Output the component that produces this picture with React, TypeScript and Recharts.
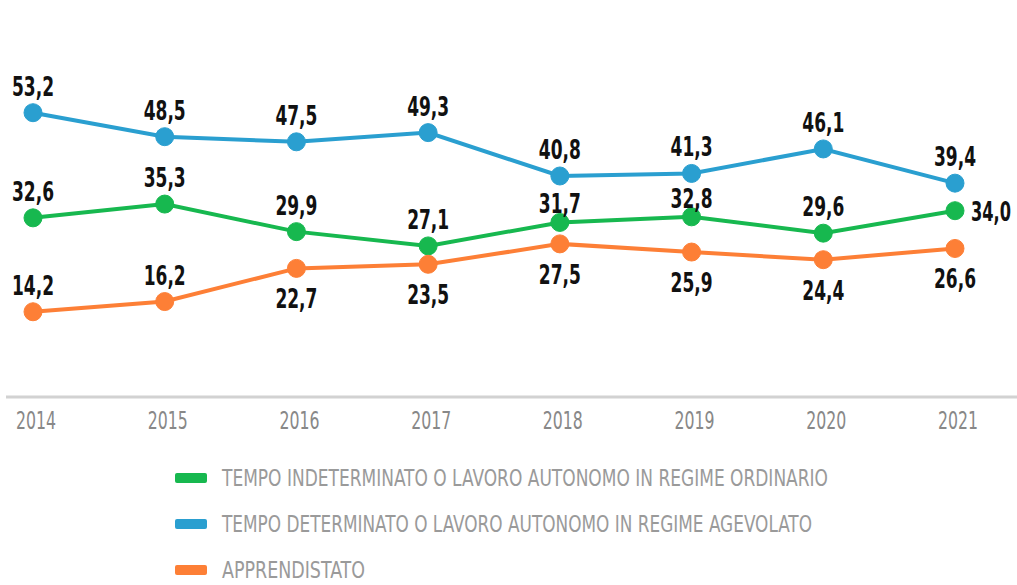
import { LineChart, Line, XAxis, YAxis, Legend, LabelList } from 'recharts';

const years = ['2014', '2015', '2016', '2017', '2018', '2019', '2020', '2021'];
const ordinario = [32.6, 35.3, 29.9, 27.1, 31.7, 32.8, 29.6, 34.0];
const agevolato = [53.2, 48.5, 47.5, 49.3, 40.8, 41.3, 46.1, 39.4];
const apprendistato = [14.2, 16.2, 22.7, 23.5, 27.5, 25.9, 24.4, 26.6];

const seriesNames = [
  'TEMPO INDETERMINATO O LAVORO AUTONOMO IN REGIME ORDINARIO',
  'TEMPO DETERMINATO O LAVORO AUTONOMO IN REGIME AGEVOLATO',
  'APPRENDISTATO',
];

const GREEN = '#17b84f';
const BLUE = '#2a9fd0';
const ORANGE = '#fd7f36';

// where each value label sits relative to its dot
const greenPlace = ['top', 'top', 'top', 'top', 'near', 'near', 'top', 'right'];
const bluePlace = ['top', 'top', 'top', 'top', 'top', 'top', 'top', 'top'];
const orangePlace = ['top', 'top', 'bottom', 'bottom', 'bottom', 'bottom', 'bottom', 'bottom'];

const data = years.map((year, i) => ({
  year,
  ordinario: ordinario[i],
  agevolato: agevolato[i],
  apprendistato: apprendistato[i],
}));

const fmt = (v: number) => v.toFixed(1).replace('.', ',');

const labelFont = '"Liberation Sans Narrow", "DejaVu Sans Condensed", Roboto, sans-serif';

const makeLabel = (places: string[]) => (props: any) => {
  const { x, y, value, index } = props;
  const place = places[index];
  if (place === 'right') {
    // smaller font stretched upward, so the label stays inside the picture
    return (
      <text
        transform={`translate(${x + 16},${y + 10}) scale(1,1.25)`}
        fontFamily={labelFont}
        fontWeight="bold"
        fontSize={21}
        fill="#111"
        textLength={40}
        lengthAdjust="spacingAndGlyphs"
      >
        {fmt(value)}
      </text>
    );
  }
  let ty = y - 17;
  if (place === 'near') ty = y - 9;
  if (place === 'bottom') ty = y + 40;
  return (
    <text
      x={x}
      y={ty}
      textAnchor="middle"
      fontFamily={labelFont}
      fontWeight="bold"
      fontSize={27}
      fill="#111"
      textLength={42}
      lengthAdjust="spacingAndGlyphs"
    >
      {fmt(value)}
    </text>
  );
};

const YearTick = (props: any) => {
  const { x, y, payload } = props;
  return (
    <text
      x={x + 3}
      y={y + 24}
      textAnchor="middle"
      fontFamily={labelFont}
      fontSize={24}
      fill="#888"
      textLength={40}
      lengthAdjust="spacingAndGlyphs"
    >
      {payload.value}
    </text>
  );
};

const legendWidths = [606, 590, 143];
const legendColors = [GREEN, BLUE, ORANGE];

const LegendBox = () => (
  <svg width={1017} height={158} style={{ display: 'block' }}>
    {seriesNames.map((name, i) => {
      const cy = 51 + i * 46;
      return (
        <g key={name}>
          <rect x={175} y={cy - 5} width={32} height={10} rx={2} fill={legendColors[i]} />
          <text
            x={222}
            y={cy + 8}
            fontFamily={labelFont}
            fontSize={23}
            fill="#9a9a9a"
            textLength={legendWidths[i]}
            lengthAdjust="spacingAndGlyphs"
          >
            {name}
          </text>
        </g>
      );
    })}
  </svg>
);

export default function App() {
  return (
    <div style={{ position: 'absolute', left: 0, top: 0, width: 1017, height: 585, background: '#fff' }}>
      <LineChart width={1017} height={585} data={data} margin={{ top: 78, right: 0, bottom: 0, left: 6 }}>
        <XAxis
          dataKey="year"
          axisLine={{ stroke: '#d2d2d2', strokeWidth: 3 }}
          tickLine={false}
          tick={<YearTick />}
          height={30}
          padding={{ left: 27, right: 62 }}
          interval={0}
        />
        <YAxis hide domain={[-2.5, 60]} allowDataOverflow />
        <Legend verticalAlign="bottom" content={<LegendBox />} wrapperStyle={{ left: 0, width: 1017, height: 158 }} />
        <Line
          dataKey="agevolato"
          stroke={BLUE}
          strokeWidth={4}
          dot={{ r: 9, fill: BLUE, stroke: BLUE, strokeWidth: 1 }}
          isAnimationActive={false}
        >
          <LabelList dataKey="agevolato" content={makeLabel(bluePlace)} />
        </Line>
        <Line
          dataKey="ordinario"
          stroke={GREEN}
          strokeWidth={4}
          dot={{ r: 9, fill: GREEN, stroke: GREEN, strokeWidth: 1 }}
          isAnimationActive={false}
        >
          <LabelList dataKey="ordinario" content={makeLabel(greenPlace)} />
        </Line>
        <Line
          dataKey="apprendistato"
          stroke={ORANGE}
          strokeWidth={4}
          dot={{ r: 9, fill: ORANGE, stroke: ORANGE, strokeWidth: 1 }}
          isAnimationActive={false}
        >
          <LabelList dataKey="apprendistato" content={makeLabel(orangePlace)} />
        </Line>
      </LineChart>
    </div>
  );
}
